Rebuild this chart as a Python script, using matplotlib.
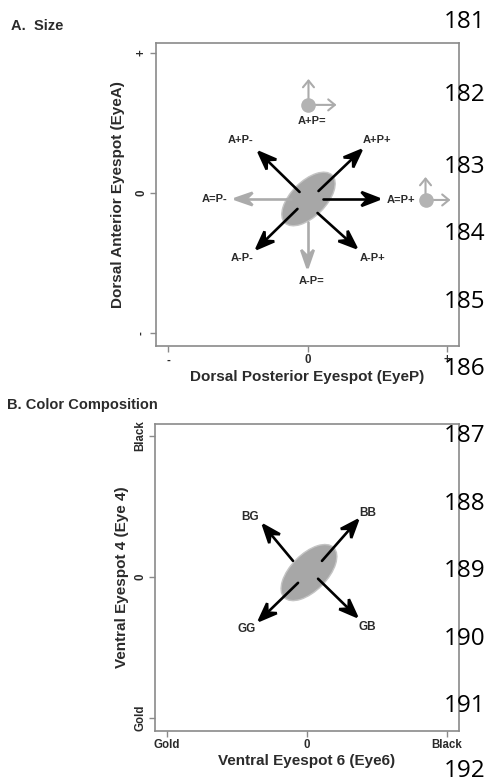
import numpy as np
import matplotlib
matplotlib.use("Agg")
import matplotlib.pyplot as plt
from matplotlib.patches import Ellipse, ArrowStyle
from matplotlib.path import Path

plt.rcParams['font.family'] = ['Liberation Sans', 'DejaVu Sans']

# ---------------- data ----------------
# Panel A (Size)
a_ellipse = (0.007, -0.043, 0.48, 0.25, 45)  # cx, cy, major, minor, angle
a_labels = ["A+P+", "A+P-", "A-P-", "A-P+", "A=P+", "A=P-", "A-P="]
a_start_x = [0.079, -0.057, -0.072, 0.072, 0.108, -0.115, 0.0]
a_start_y = [0.014, 0.007, -0.114, -0.143, -0.043, -0.043, -0.207]
a_tip_x = [0.387, -0.351, -0.366, 0.351, 0.516, -0.523, 0.0]
a_tip_y = [0.307, 0.293, -0.400, -0.393, -0.043, -0.043, -0.536]
a_arrow_gray = [False, False, False, False, False, True, True]
a_text = ["A+P+", "A+P-", "A=P-", "A=P+", "A-P-", "A-P+", "A-P=", "A+P="]
a_text_x = [0.502, -0.480, -0.667, 0.667, -0.466, 0.466, 0.029, 0.029]
a_text_y = [0.379, 0.379, -0.043, -0.050, -0.464, -0.464, -0.629, 0.514]
a_icon_x = [0.007, 0.846]
a_icon_y = [0.629, -0.050]
a_icon_up = [0.185, 0.164]
a_icon_right = [0.201, 0.179]
a_ticks = [-1, 0, 1]
a_xticklabels = ["-", "0", "+"]
a_yticklabels = ["-", "0", "+"]

# Panel B (Color Composition)
b_ellipse = (0.014, 0.030, 0.50, 0.26, 45)
b_labels = ["BB", "BG", "GG", "GB"]
b_start_x = [0.107, -0.100, -0.064, 0.079]
b_start_y = [0.113, 0.113, -0.043, -0.014]
b_tip_x = [0.364, -0.314, -0.343, 0.357]
b_tip_y = [0.404, 0.369, -0.312, -0.284]
b_text_x = [0.436, -0.407, -0.429, 0.429]
b_text_y = [0.454, 0.426, -0.369, -0.355]
b_ticks = [-1, 0, 1]
b_xticklabels = ["Gold", "0", "Black"]
b_yticklabels = ["Gold", "0", "Black"]

line_numbers = ["181", "182", "183", "184", "185", "186",
                "187", "188", "189", "190", "191", "192"]
line_number_baseline = [28, 101, 173, 240, 308, 375, 442, 510, 577, 645, 712, 777]

# ---------------- styling helpers ----------------
W, H = 491, 780
SPINE = "#8a8a8a"
TXT = "#2b2b2b"
GRAY = "#ababab"
ELL = "#a7a7a7"


class Stealth(ArrowStyle._Base):
    """Filled, concave-backed arrow head."""

    def __init__(self, head_length=1.2, head_width=0.47, notch=0.35):
        self.head_length = head_length
        self.head_width = head_width
        self.notch = notch
        super().__init__()

    def transmute(self, path, mutation_size, linewidth):
        x0, y0 = path.vertices[0]
        x1, y1 = path.vertices[-1]
        d = np.hypot(x1 - x0, y1 - y0)
        ux, uy = (x1 - x0) / d, (y1 - y0) / d
        px, py = -uy, ux
        L = self.head_length * mutation_size
        Wd = self.head_width * mutation_size
        bx, by = x1 - ux * L, y1 - uy * L
        nx, ny = x1 - ux * L * (1 - self.notch), y1 - uy * L * (1 - self.notch)
        head = Path([(x1, y1), (bx + px * Wd, by + py * Wd), (nx, ny),
                     (bx - px * Wd, by - py * Wd), (x1, y1), (x1, y1)],
                    [Path.MOVETO, Path.LINETO, Path.LINETO, Path.LINETO,
                     Path.LINETO, Path.CLOSEPOLY])
        line = Path([(x0, y0), (nx + ux * 1.0, ny + uy * 1.0)])
        return [line, head], [False, True]


def style_axes(ax, xt, xtl, yt, ytl, lim_x, lim_y):
    ax.set_xlim(*lim_x)
    ax.set_ylim(*lim_y)
    for s in ax.spines.values():
        s.set_color(SPINE)
        s.set_linewidth(1.2)
    ax.set_xticks(xt)
    ax.set_xticklabels(xtl, fontsize=8.3, fontweight='bold', color=TXT)
    ax.set_yticks(yt)
    ax.set_yticklabels(ytl, fontsize=8.3, fontweight='bold', color=TXT,
                       rotation=90, va='center')
    ax.tick_params(axis='both', direction='out', length=4, width=1,
                   color=SPINE, pad=2)


def draw_arrow(ax, x0, y0, x1, y1, color, lw=1.9, hw=0.5):
    ax.annotate('', xy=(x1, y1), xytext=(x0, y0),
                arrowprops=dict(arrowstyle=Stealth(1.3, hw, 0.35),
                                color=color, lw=lw, mutation_scale=10,
                                shrinkA=0, shrinkB=0, joinstyle='miter'),
                zorder=3)


def draw_open_arrow(ax, x0, y0, x1, y1, color):
    ax.annotate('', xy=(x1, y1), xytext=(x0, y0),
                arrowprops=dict(arrowstyle='->,head_length=0.4,head_width=0.33',
                                color=color, lw=1.5, mutation_scale=12,
                                shrinkA=0, shrinkB=0),
                zorder=3)


# ---------------- figure ----------------
fig = plt.figure(figsize=(W / 100, H / 100), dpi=100)

# Panel A
axA = fig.add_axes([156 / W, 1 - 346 / H, 303 / W, 303 / H])
style_axes(axA, a_ticks, a_xticklabels, a_ticks, a_yticklabels,
           (-1.086, 1.086), (-1.093, 1.071))
cx, cy, wa, hb, ang = a_ellipse
axA.add_patch(Ellipse((cx, cy), wa, hb, angle=ang, facecolor=ELL,
                      edgecolor="#c4c4c4", lw=1, zorder=2))
for i in range(len(a_labels)):
    col = GRAY if a_arrow_gray[i] else "black"
    draw_arrow(axA, a_start_x[i], a_start_y[i], a_tip_x[i], a_tip_y[i], col,
               hw=0.45 if a_arrow_gray[i] else 0.5)
for t, x, y in zip(a_text, a_text_x, a_text_y):
    axA.text(x, y, t, fontsize=8, fontweight='bold', color=TXT,
             ha='center', va='center', zorder=4)
for x, y, up, rt in zip(a_icon_x, a_icon_y, a_icon_up, a_icon_right):
    draw_open_arrow(axA, x, y, x, y + up, GRAY)
    draw_open_arrow(axA, x, y, x + rt, y, GRAY)
    axA.plot([x], [y], 'o', ms=9.5, color="#b3b3b3", zorder=4)
axA.set_xlabel("Dorsal Posterior Eyespot (EyeP)", fontsize=11,
               fontweight='bold', color=TXT, labelpad=3)
axA.set_ylabel("Dorsal Anterior Eyespot (EyeA)", fontsize=11,
               fontweight='bold', color=TXT, labelpad=8)
fig.text(11 / W, 1 - 26 / H, "A.  Size", fontsize=10.5, fontweight='bold',
         color=TXT, ha='left', va='center')

# Panel B
axB = fig.add_axes([155 / W, 1 - 731 / H, 304 / W, 307 / H])
style_axes(axB, b_ticks, b_xticklabels, b_ticks, b_yticklabels,
           (-1.086, 1.086), (-1.095, 1.085))
cx, cy, wa, hb, ang = b_ellipse
axB.add_patch(Ellipse((cx, cy), wa, hb, angle=ang, facecolor=ELL,
                      edgecolor="#c4c4c4", lw=1, zorder=2))
for i in range(len(b_labels)):
    draw_arrow(axB, b_start_x[i], b_start_y[i], b_tip_x[i], b_tip_y[i], "black")
for t, x, y in zip(b_labels, b_text_x, b_text_y):
    axB.text(x, y, t, fontsize=8.5, fontweight='bold', color=TXT,
             ha='center', va='center', zorder=4)
axB.set_xlabel("Ventral Eyespot 6 (Eye6)", fontsize=11,
               fontweight='bold', color=TXT, labelpad=2)
axB.set_ylabel("Ventral Eyespot 4 (Eye 4)", fontsize=11,
               fontweight='bold', color=TXT, labelpad=4)
fig.text(7 / W, 1 - 405 / H, "B. Color Composition", fontsize=10.5,
         fontweight='bold', color=TXT, ha='left', va='center')

# Manuscript line numbers
for t, y in zip(line_numbers, line_number_baseline):
    fig.text(465 / W, 1 - y / H, t, fontsize=17.5, color="black",
             family=['Open Sans', 'DejaVu Sans'], ha='center', va='baseline',
             zorder=10)

fig.savefig("out.png", dpi=100, facecolor="white")
